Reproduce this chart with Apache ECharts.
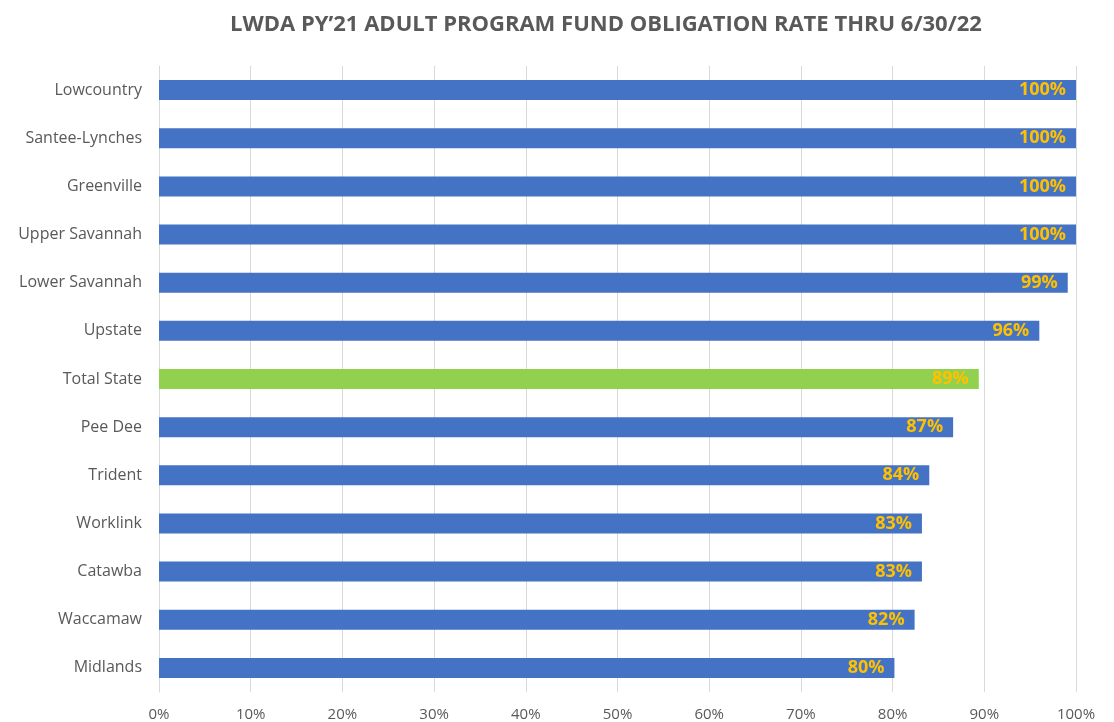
<!DOCTYPE html>
<html>
<head>
<meta charset="utf-8">
<script src="https://cdn.jsdelivr.net/npm/echarts@6/dist/echarts.min.js"></script>
<style>
  html, body { margin: 0; padding: 0; background: #fff; }
  #chart { width: 1114px; height: 722px; }
</style>
</head>
<body>
<div id="chart"></div>
<script>
const regions = ['Lowcountry', 'Santee-Lynches', 'Greenville', 'Upper Savannah', 'Lower Savannah', 'Upstate',
  'Total State', 'Pee Dee', 'Trident', 'Worklink', 'Catawba', 'Waccamaw', 'Midlands']
const rates = [100, 100, 100, 100, 99.1, 96.0, 89.4, 86.6, 84.0, 83.2, 83.2, 82.4, 80.2]
const xTicks = [0, 10, 20, 30, 40, 50, 60, 70, 80, 90, 100]

const font = '"Open Sans", sans-serif'
const chart = echarts.init(document.getElementById('chart'))

chart.setOption({
  animation: false,
  title: {
    text: 'LWDA PY\u201921 ADULT PROGRAM FUND OBLIGATION RATE THRU 6/30/22',
    left: 601,
    top: 9,
    textAlign: 'center',
    textStyle: { fontFamily: font, fontSize: 22, fontWeight: 'bold', color: '#595959' }
  },
  grid: { left: 159, right: 38, top: 66, bottom: 28 },
  xAxis: {
    type: 'value',
    min: 0,
    max: 100,
    interval: 10,
    axisLine: { show: false },
    axisTick: { show: false },
    splitLine: { lineStyle: { color: '#d9d9d9', width: 1 } },
    axisLabel: {
      fontFamily: font, fontSize: 15, color: '#595959', margin: 15,
      formatter: v => xTicks.includes(v) ? v + '%' : ''
    }
  },
  yAxis: {
    type: 'category',
    data: regions,
    inverse: true,
    axisLine: { show: true, lineStyle: { color: '#d9d9d9' } },
    axisTick: { show: false },
    axisLabel: { fontFamily: font, fontSize: 16, color: '#595959', margin: 17 }
  },
  series: [{
    type: 'bar',
    barWidth: 20,
    data: rates.map((v, i) => ({
      value: v,
      itemStyle: { color: regions[i] === 'Total State' ? '#92D050' : '#4472C4' }
    })),
    label: {
      show: true,
      position: 'insideRight',
      distance: 10,
      formatter: p => Math.round(p.value) + '%',
      fontFamily: font,
      fontSize: 18,
      fontWeight: 'bold',
      color: '#FFC000'
    }
  }]
})
</script>
</body>
</html>
